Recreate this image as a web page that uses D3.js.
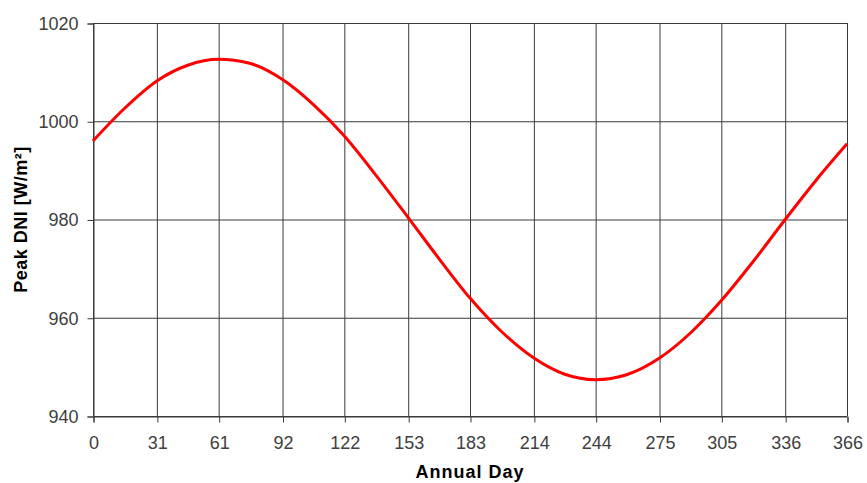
<!DOCTYPE html>
<html><head><meta charset="utf-8">
<script src="https://cdn.jsdelivr.net/npm/d3@7"></script>
<style>body{margin:0;background:#fff}svg{display:block}</style>
</head><body>
<script>
const days = [0,15,31,46,61,76,92,107,122,137,153,168,183,198,214,229,244,259,275,290,305,320,336,351,366];
const dni  = [996.0,1002.5,1008.2,1011.4,1012.6,1011.8,1008.5,1003.4,997.0,989.2,980.4,972.0,964.0,957.3,951.8,948.5,947.4,948.4,951.8,956.9,963.5,971.2,980.0,988.0,995.4];
const xTicks = [0,31,61,92,122,153,183,214,244,275,305,336,366];
const yTicks = [940,960,980,1000,1020];
const xTitle = "Annual Day";
const yTitle = "Peak DNI [W/m²]";

const W = 867, H = 483;
const m = {l:93, r:20, t:23, b:67};
const font = "Liberation Sans, Arial, sans-serif";
const svg = d3.select("body").append("svg").attr("width",W).attr("height",H);
const x = d3.scaleLinear().domain([0,366]).range([m.l, W-m.r]);
const y = d3.scaleLinear().domain([940,1020]).range([H-m.b, m.t]);

// gridlines
svg.append("g").selectAll("line").data(xTicks).join("line")
  .attr("x1",d=>x(d)+0.5).attr("x2",d=>x(d)+0.5)
  .attr("y1",y(1020)).attr("y2",y(940))
  .attr("stroke","#3a3a3a").attr("stroke-width",1);
svg.append("g").selectAll("line").data(yTicks).join("line")
  .attr("x1",x(0)).attr("x2",x(366))
  .attr("y1",d=>y(d)+0.5).attr("y2",d=>y(d)+0.5)
  .attr("stroke","#3a3a3a").attr("stroke-width",1);

// axes
const xa = svg.append("g").attr("transform",`translate(0.5,${y(940)+0.5})`)
  .call(d3.axisBottom(x).tickValues(xTicks).tickSize(6).tickPadding(14).tickFormat(d3.format("d")));
const ya = svg.append("g").attr("transform",`translate(${x(0)+0.5},0.5)`)
  .call(d3.axisLeft(y).tickValues(yTicks).tickSize(6).tickPadding(9).tickFormat(d3.format("d")));
[xa,ya].forEach(a=>{
  a.select(".domain").attr("stroke","#3a3a3a");
  a.selectAll(".tick line").attr("stroke","#3a3a3a");
  a.selectAll("text").attr("font-family",font)
    .attr("font-size",18).attr("fill","#404040");
});
xa.selectAll("text").attr("dy","0.71em").attr("y",20);

// curve
const line = d3.line().x((d,i)=>x(days[i])).y(d=>y(d)).curve(d3.curveMonotoneX);
svg.append("path").datum(dni).attr("d",line)
  .attr("fill","none").attr("stroke","#ff0000").attr("stroke-width",3).attr("stroke-linejoin","round");

// titles
svg.append("text").attr("x",(x(0)+x(366))/2).attr("y",478)
  .attr("text-anchor","middle").attr("font-family",font).attr("letter-spacing","1px")
  .attr("font-weight","bold").attr("font-size",18).attr("fill","#000").text(xTitle);
svg.append("text").attr("transform",`translate(27,${(y(940)+y(1020))/2}) rotate(-90)`)
  .attr("text-anchor","middle").attr("font-family",font).attr("letter-spacing","0.5px")
  .attr("font-weight","bold").attr("font-size",18).attr("fill","#000").text(yTitle);
</script>
</body></html>
